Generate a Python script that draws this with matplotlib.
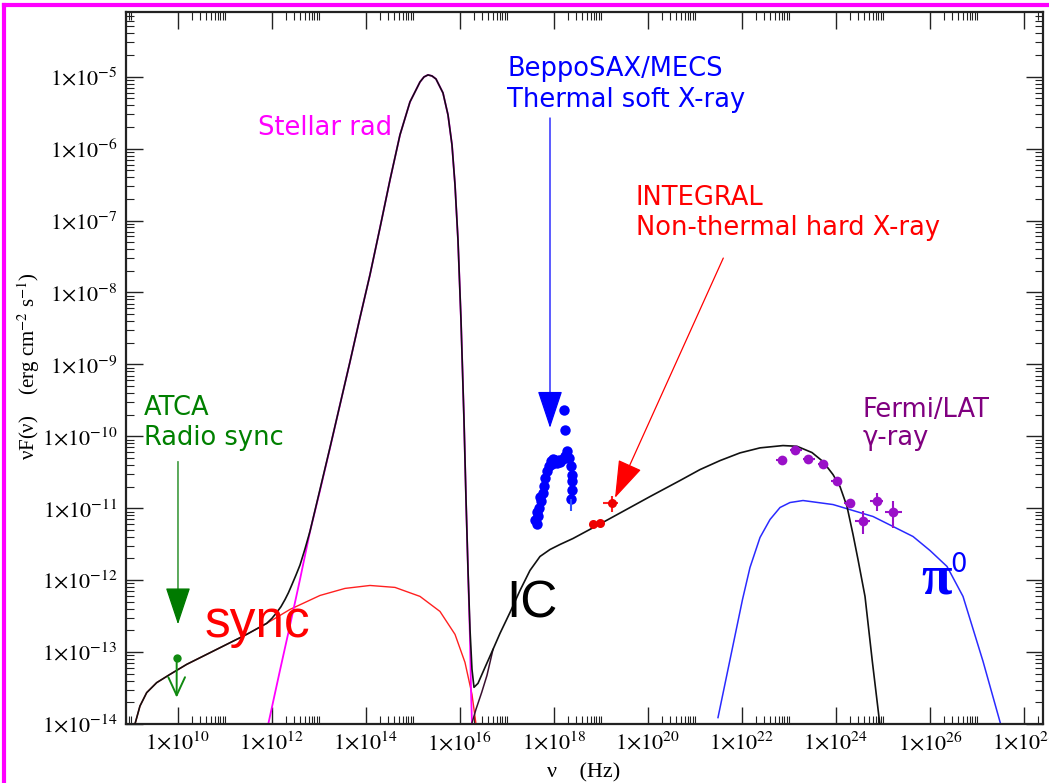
import numpy as np
import matplotlib
matplotlib.use('Agg')
import matplotlib.pyplot as plt
from matplotlib.ticker import FixedLocator, FuncFormatter, LogLocator, NullFormatter
from matplotlib.lines import Line2D

plt.rcParams['font.family'] = ['Liberation Serif', 'DejaVu Serif']
plt.rcParams['mathtext.fontset'] = 'stix'

# ---------------- data (log10 nu [Hz], log10 nuF_nu [erg cm^-2 s^-1]) ----------------
sync_lognu = [9.085, 9.191, 9.334, 9.547, 9.830, 10.185, 10.611, 11.036, 11.462, 11.887,
              12.383, 13.021, 13.553, 14.085, 14.617, 15.149, 15.574, 15.894, 16.106, 16.255, 16.340]
sync_logF = [-14.0, -13.750, -13.564, -13.425, -13.310, -13.171, -13.032, -12.893, -12.754, -12.601,
             -12.407, -12.213, -12.115, -12.074, -12.101, -12.226, -12.435, -12.754, -13.143, -13.588, -14.0]

stellar_lognu = [11.921, 12.170, 12.383, 12.596, 12.809, 13.021, 13.234, 13.447, 13.660, 13.872,
                 14.085, 14.298, 14.511, 14.723, 14.936, 15.149, 15.234, 15.319, 15.404, 15.489,
                 15.638, 15.745, 15.830, 15.894, 15.957, 16.021, 16.085, 16.128, 16.170, 16.213,
                 16.234, 16.255]
stellar_logF = [-14.0, -13.254, -12.629, -11.990, -11.324, -10.754, -10.163, -9.560, -8.963, -8.351,
                -7.754, -7.101, -6.435, -5.810, -5.351, -5.074, -5.004, -4.976, -4.990, -5.032,
                -5.226, -5.532, -5.949, -6.504, -7.268, -8.379, -9.768, -10.879, -11.851, -12.824,
                -13.519, -14.0]

total_lognu = [9.085, 9.191, 9.334, 9.547, 9.830, 10.185, 10.611, 11.036, 11.462, 11.887,
               12.000, 12.100, 12.190, 12.277, 12.350, 12.426, 12.510, 12.596, 12.700, 12.809,
               13.021, 13.234, 13.447, 13.660, 13.872,
               14.085, 14.298, 14.511, 14.723, 14.936, 15.149, 15.234, 15.319, 15.404, 15.489,
               15.638, 15.745, 15.830, 15.894, 15.957, 16.021, 16.085, 16.128, 16.170, 16.213,
               16.255, 16.298, 16.383, 16.532, 16.702, 16.851, 17.064, 17.277, 17.489, 17.702,
               17.915, 18.128, 18.404, 18.979, 19.404, 20.043, 20.681, 21.106, 21.532, 21.957,
               22.383, 22.872, 23.170, 23.489, 23.723, 23.936, 24.085, 24.234, 24.362, 24.468,
               24.617, 24.772, 24.932]
total_logF = [-14.0, -13.750, -13.564, -13.425, -13.310, -13.171, -13.032, -12.893, -12.754, -12.601,
              -12.530, -12.450, -12.370, -12.270, -12.175, -12.060, -11.930, -11.790, -11.570, -11.320,
              -10.740, -10.157, -9.560, -8.963, -8.351,
              -7.754, -7.101, -6.435, -5.810, -5.351, -5.074, -5.004, -4.976, -4.990, -5.032,
              -5.226, -5.532, -5.949, -6.504, -7.268, -8.379, -9.768, -10.879, -11.851, -12.685,
              -13.240, -13.490, -13.435, -13.213, -12.963, -12.740, -12.449, -12.143, -11.865, -11.671,
              -11.574, -11.504, -11.421, -11.219, -11.067, -10.838, -10.615, -10.463, -10.338, -10.231,
              -10.161, -10.129, -10.139, -10.226, -10.351, -10.532, -10.699, -10.976, -11.365, -11.713,
              -12.226, -13.125, -14.0]

ic_tail_lognu = [16.249, 16.340, 16.462, 16.574, 16.702]
ic_tail_logF = [-14.0, -13.796, -13.560, -13.324, -12.963]

pi0_lognu = [21.489, 22.011, 22.170, 22.383, 22.596, 22.809, 23.021, 23.298, 23.617, 23.936,
             24.362, 24.787, 25.213, 25.638, 26.000, 26.362, 26.702, 27.128, 27.502]
pi0_logF = [-13.911, -12.268, -11.824, -11.407, -11.157, -10.990, -10.921, -10.893, -10.921, -10.949,
            -11.032, -11.115, -11.254, -11.393, -11.588, -11.810, -12.226, -13.129, -14.0]

sax_lognu = [17.632, 17.666, 17.687, 17.717, 17.760, 17.787, 17.815, 17.845, 17.887, 17.930,
             17.972, 18.021, 18.070, 18.128, 18.185, 18.234, 18.283, 18.319, 18.355, 18.377,
             18.377, 18.383, 18.362, 18.213, 18.234, 17.606, 17.640, 17.700, 17.950, 18.100]
sax_logF = [-11.226, -11.111, -10.994, -10.903, -10.786, -10.685, -10.578, -10.486, -10.407, -10.347,
            -10.314, -10.324, -10.369, -10.361, -10.314, -10.268, -10.208, -10.300, -10.417, -10.532,
            -10.625, -10.740, -10.869, -9.639, -9.907, -11.157, -11.046, -10.840, -10.380, -10.330]
sax_err_lognu = [18.362]
sax_err_lo = [-11.042]
sax_err_hi = [-10.869]

integral_lognu = [18.836, 18.979, 19.228]
integral_logF = [-11.213, -11.199, -10.925]
integral_xlo = [18.836, 18.979, 19.050]
integral_xhi = [18.836, 18.979, 19.362]
integral_ylo = [-11.213, -11.199, -11.046]
integral_yhi = [-11.213, -11.199, -10.837]

fermi_lognu = [22.845, 23.128, 23.411, 23.730, 24.015, 24.298, 24.581, 24.866, 25.219]
fermi_logF = [-10.333, -10.194, -10.314, -10.383, -10.625, -10.925, -11.171, -10.893, -11.056]
fermi_xlo = [22.73, 23.02, 23.30, 23.62, 23.90, 24.18, 24.404, 24.72, 25.043]
fermi_xhi = [22.96, 23.27, 23.55, 23.84, 24.13, 24.41, 24.723, 25.01, 25.398]
fermi_ylo = [-10.38, -10.24, -10.36, -10.43, -10.68, -10.98, -11.365, -11.042, -11.272]
fermi_yhi = [-10.29, -10.15, -10.27, -10.34, -10.57, -10.87, -11.042, -10.786, -10.903]

atca_lognu = [9.972]
atca_logF = [-13.078]
atca_limit_logF = [-13.633]

xtick_exps = list(range(10, 29, 2))
ytick_exps = list(range(-14, -4))


def p(v):
    return 10.0 ** np.asarray(v, dtype=float)


W, H = 1049, 783
fig = plt.figure(figsize=(W / 100, H / 100), dpi=100)
ax = fig.add_axes([126 / W, 1 - 724 / H, 917 / W, 712.3 / H])
ax.set_xscale('log')
ax.set_yscale('log')
ax.set_xlim(10 ** 8.894, 10 ** 28.404)
ax.set_ylim(1e-14, 10 ** -4.097)

# curves
ax.plot(p(sync_lognu), p(sync_logF), color='#ff2020', lw=1.0, zorder=2)
ax.plot(p(stellar_lognu), p(stellar_logF), color='#ff00ff', lw=1.3, zorder=2)
ax.plot(p(pi0_lognu), p(pi0_logF), color='#2a2aff', lw=1.1, zorder=2)
ax.plot(p(ic_tail_lognu), p(ic_tail_logF), color='#3a1030', lw=1.1, zorder=3)
ax.plot(p(total_lognu), p(total_logF), color='#111111', lw=1.2, zorder=3)

# BeppoSAX
ax.plot(p(sax_lognu), p(sax_logF), 'o', color='#0000ff', ms=7.5, mec='none', zorder=4)
ax.vlines(p(sax_err_lognu), p(sax_err_lo), p(sax_err_hi), color='#3050ff', lw=1.5, zorder=4)

# INTEGRAL
ax.hlines(p(integral_logF), p(integral_xlo), p(integral_xhi), color='#ff2020', lw=1.5, zorder=4)
ax.vlines(p(integral_lognu), p(integral_ylo), p(integral_yhi), color='#ff2020', lw=1.5, zorder=4)
ax.plot(p(integral_lognu), p(integral_logF), 'o', color='#ee0000', ms=6.5, mec='none', zorder=5)

# Fermi/LAT
fcol = '#9a10c8'
ax.hlines(p(fermi_logF), p(fermi_xlo), p(fermi_xhi), color=fcol, lw=1.5, zorder=4)
ax.vlines(p(fermi_lognu), p(fermi_ylo), p(fermi_yhi), color=fcol, lw=1.5, zorder=4)
ax.plot(p(fermi_lognu), p(fermi_logF), 'o', color=fcol, ms=7, mec='none', zorder=5)

# ATCA upper limit
gcol = '#108a10'
ax.plot(p(atca_lognu), p(atca_logF), 'o', color=gcol, ms=6, mec='none', zorder=5)
ax.annotate('', xy=(p(atca_lognu)[0], p(atca_limit_logF)[0]),
            xytext=(p(atca_lognu)[0], p(atca_logF)[0]),
            arrowprops=dict(arrowstyle='->,head_length=1.3,head_width=0.6', color=gcol, lw=1.4,
                            shrinkA=0, shrinkB=0, mutation_scale=10), zorder=5)

# annotation arrows (pointing at each instrument's data)
def big_arrow(start, tip, col):
    ax.annotate('', xy=(10 ** tip[0], 10 ** tip[1]), xytext=(10 ** start[0], 10 ** start[1]),
                arrowprops=dict(arrowstyle='-|>,head_length=2.4,head_width=0.8', color=col, lw=0.9,
                                shrinkA=0, shrinkB=0, mutation_scale=10), zorder=6)

big_arrow((10.0, -10.351), (10.0, -12.615), '#007a00')
big_arrow((17.915, -5.574), (17.915, -9.883), '#0000ff')
big_arrow((21.602, -7.522), (19.298, -10.856), '#ff0000')

# ticks
ax.xaxis.set_major_locator(FixedLocator([10.0 ** e for e in xtick_exps]))
xminor = [k * 10.0 ** n for n in range(8, 29, 2) for k in range(2, 11)]
ax.xaxis.set_minor_locator(FixedLocator(xminor))
ax.yaxis.set_major_locator(FixedLocator([10.0 ** e for e in ytick_exps]))
ax.yaxis.set_minor_locator(LogLocator(base=10, subs=np.arange(2, 10), numticks=100))
fmt = FuncFormatter(lambda v, pos: r'$1{\times}10^{%d}$' % int(round(np.log10(v))))
ax.xaxis.set_major_formatter(fmt)
ax.yaxis.set_major_formatter(fmt)
ax.xaxis.set_minor_formatter(NullFormatter())
ax.yaxis.set_minor_formatter(NullFormatter())
ax.tick_params(which='both', direction='in', top=True, right=True, color='#222222')
ax.tick_params(which='major', length=12, width=1.0, labelsize=16, pad=6)
ax.tick_params(which='minor', length=6, width=0.8)
for s in ax.spines.values():
    s.set_linewidth(1.6)
    s.set_color('#222222')

# axis titles
fig.text(584 / W, 1 - 773 / H, 'ν    (Hz)', ha='center', va='center', fontsize=16)
fig.text(29 / W, 1 - 366 / H, r'νF(ν)    (erg cm$^{-2}$ s$^{-1}$)', ha='center', va='center',
         rotation=90, fontsize=15)


def ftext(x, y, s, **kw):
    fig.text(x / W, 1 - y / H, s, ha='left', va='baseline', **kw)

sans = dict(family='DejaVu Sans', fontsize=18.5)
ftext(258, 135, 'Stellar rad', color='#ff00ff', **sans)
ftext(507, 76, 'BeppoSAX/MECS', color='#0000ff', **sans)
ftext(507, 106.7, 'Thermal soft X-ray', color='#0000ff', **sans)
ftext(636, 205, 'INTEGRAL', color='#ff0000', **sans)
ftext(636, 235, 'Non-thermal hard X-ray', color='#ff0000', **sans)
ftext(144, 415, 'ATCA', color='#008000', **sans)
ftext(144, 445, 'Radio sync', color='#008000', **sans)
ftext(862.7, 416.7, 'Fermi/LAT', color='#800080', **sans)
ftext(862.7, 445, 'γ-ray', color='#800080', **sans)
ftext(205, 636.7, 'sync', color='#ff0000', family='Liberation Sans', fontsize=37)
ftext(506, 617, 'IC', color='black', family='Liberation Sans', fontsize=37)
ftext(921, 593, 'π', color='#0000ff', family='Liberation Serif', fontweight='bold', fontsize=40)
ftext(950, 572, '0', color='#0000ff', **sans)

# magenta frame (left and top edges)
fig.add_artist(Line2D([4 / W, 4 / W], [0, 1 - 5 / H], color='#ff00ff', lw=3, transform=fig.transFigure))
fig.add_artist(Line2D([4 / W, 1], [1 - 5 / H, 1 - 5 / H], color='#ff00ff', lw=3, transform=fig.transFigure))

fig.savefig('out.png', dpi=100)
